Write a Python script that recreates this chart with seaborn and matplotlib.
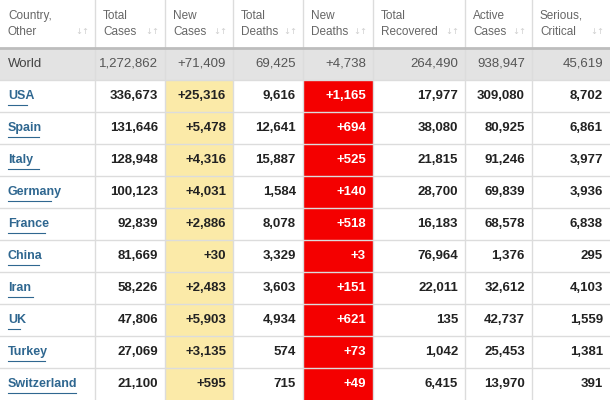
import numpy as np
import seaborn as sns
import matplotlib.pyplot as plt
from matplotlib.colors import ListedColormap

plt.rcParams["font.family"] = "Liberation Sans"

headers = [("Country,", "Other"), ("Total", "Cases"), ("New", "Cases"), ("Total", "Deaths"),
           ("New", "Deaths"), ("Total", "Recovered"), ("Active", "Cases"), ("Serious,", "Critical")]
world = ["World", "1,272,862", "+71,409", "69,425", "+4,738", "264,490", "938,947", "45,619"]
countries = ["USA", "Spain", "Italy", "Germany", "France", "China", "Iran", "UK", "Turkey", "Switzerland"]
total_cases = ["336,673", "131,646", "128,948", "100,123", "92,839", "81,669", "58,226", "47,806", "27,069", "21,100"]
new_cases = ["+25,316", "+5,478", "+4,316", "+4,031", "+2,886", "+30", "+2,483", "+5,903", "+3,135", "+595"]
total_deaths = ["9,616", "12,641", "15,887", "1,584", "8,078", "3,329", "3,603", "4,934", "574", "715"]
new_deaths = ["+1,165", "+694", "+525", "+140", "+518", "+3", "+151", "+621", "+73", "+49"]
recovered = ["17,977", "38,080", "21,815", "28,700", "16,183", "76,964", "22,011", "135", "1,042", "6,415"]
active = ["309,080", "80,925", "91,246", "69,839", "68,578", "1,376", "32,612", "42,737", "25,453", "13,970"]
serious = ["8,702", "6,861", "3,977", "3,936", "6,838", "295", "4,103", "1,559", "1,381", "391"]

col_edges = [0, 95, 165, 233, 303, 373, 465, 532, 610]
W = 610
# rows in 16px units: header 3, world 2, each country 2
n_units = 3 + 2 + 2 * len(countries)

# background color codes: 0 white, 1 gray, 2 yellow, 3 red
grid = np.zeros((n_units, W), dtype=int)
grid[3:5, :] = 1
grid[5:, col_edges[2]:col_edges[3]] = 2
grid[5:, col_edges[4]:col_edges[5]] = 3
cmap = ListedColormap(["#ffffff", "#e3e3e3", "#fbeaa8", "#f40000"])

fig = plt.figure(figsize=(6.1, 4.0), dpi=100)
ax = fig.add_axes([0, 0, 1, 1])
sns.heatmap(grid, cmap=cmap, vmin=-0.5, vmax=3.5, cbar=False, ax=ax,
            xticklabels=False, yticklabels=False)

# grid lines
for x in col_edges[1:-1]:
    ax.plot([x, x], [0, n_units], color="#dcdcdc", lw=1)
ax.plot([0, W], [3, 3], color="#bdbdbd", lw=2)
for r in range(5, n_units, 2):
    ax.plot([0, W], [r, r], color="#dcdcdc", lw=1)

# header
for i, (a, b) in enumerate(headers):
    x0 = col_edges[i] + 8
    ax.text(x0, 1.0, a, ha="left", va="center", fontsize=8.5, color="#666666")
    ax.text(x0, 2.0, b, ha="left", va="center", fontsize=8.5, color="#666666")
    ax.text(col_edges[i + 1] - 6, 2.0, "↓↑", ha="right", va="center", fontsize=6,
            color="#cfcfcf", family="DejaVu Sans")

# world row
for i, v in enumerate(world):
    if i == 0:
        ax.text(col_edges[0] + 8, 4.0, v, ha="left", va="center", fontsize=9.5, color="#444444")
    else:
        ax.text(col_edges[i + 1] - 7, 4.0, v, ha="right", va="center", fontsize=9.5, color="#555555")

cols = [total_cases, new_cases, total_deaths, new_deaths, recovered, active, serious]
for r, name in enumerate(countries):
    yc = 5 + 2 * r + 1
    t = ax.text(col_edges[0] + 8, yc, name, ha="left", va="center", fontsize=9, color="#2f6790",
                fontweight="bold")
    tw = len(name) * 6.2
    ax.plot([8, 8 + tw], [yc + 0.55, yc + 0.55], color="#2f6790", lw=0.8)
    for i, col in enumerate(cols):
        color = "white" if i == 3 else "#222222"
        ax.text(col_edges[i + 2] - 7, yc, col[r], ha="right", va="center", fontsize=9.5,
                color=color, fontweight="bold")

ax.set_xlim(0, W)
ax.set_ylim(n_units, 0)
ax.axis("off")
fig.savefig("out.png", dpi=100)
